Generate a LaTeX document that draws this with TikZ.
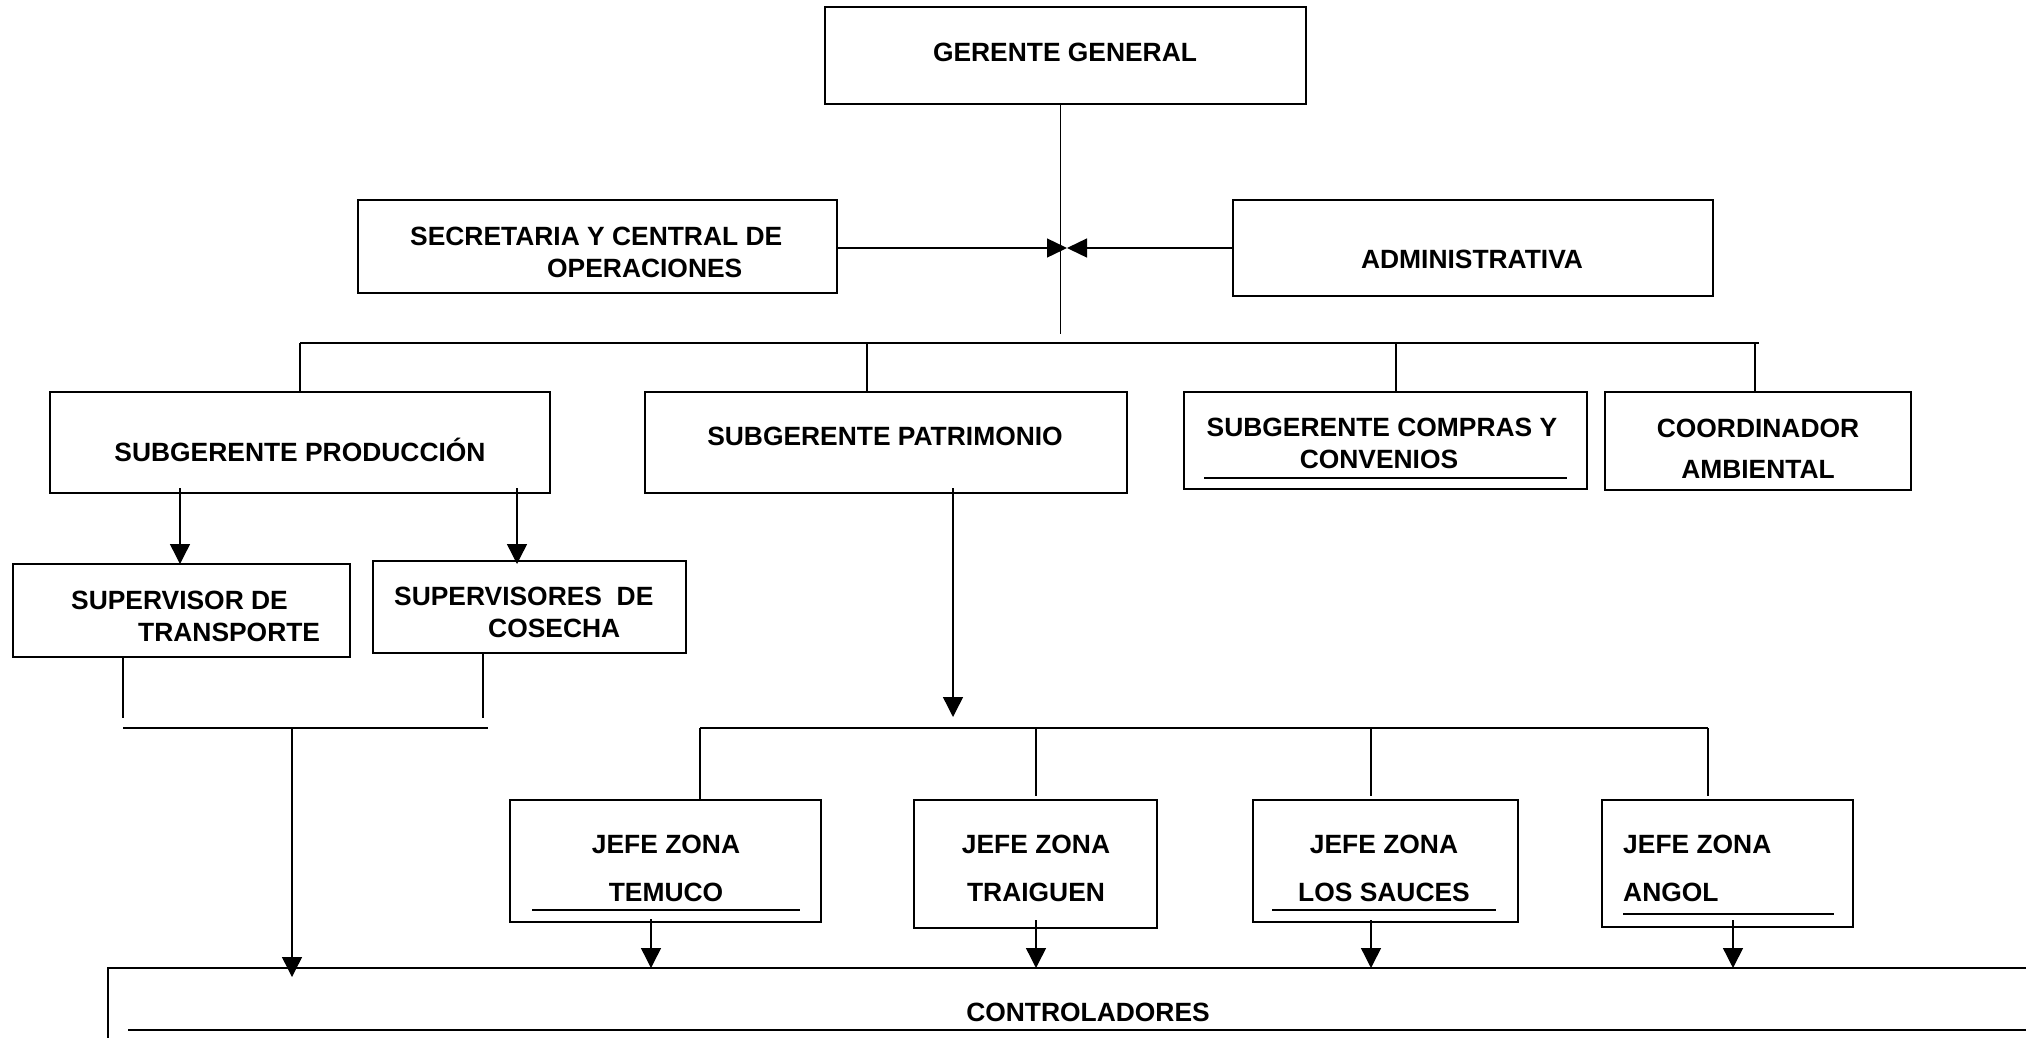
\documentclass[tikz,border=0pt]{standalone}
\usepackage{fontspec}
\setmainfont{Liberation Sans}
\usetikzlibrary{arrows.meta}
\begin{document}
\begin{tikzpicture}[x=1pt,y=-1pt,
  box/.style={draw, line width=1.8pt, inner sep=0pt, outer sep=0pt},
  lbl/.style={anchor=base, inner sep=0pt, font=\bfseries\fontsize{26.4}{32}\selectfont},
  lbll/.style={lbl, anchor=base west},
  conn/.style={line width=1.4pt},
  arr/.style={conn, -{Triangle[length=20pt,width=20pt]}},
  uline/.style={line width=1.8pt}]
\useasboundingbox (0,0) rectangle (2026,1037);
\clip (0,0) rectangle (2026,1037);
\fill[white] (0,0) rectangle (2026,1037);

% boxes
\node[box, minimum width=481pt, minimum height=97pt] (gg) at (1065.5,55.5) {};
\node[box, minimum width=479pt, minimum height=93pt] (sec) at (597.5,246.5) {};
\node[box, minimum width=480pt, minimum height=96pt] (adm) at (1473,248) {};
\node[box, minimum width=500pt, minimum height=101pt] (prod) at (300,442.5) {};
\node[box, minimum width=482pt, minimum height=101pt] (pat) at (886,442.5) {};
\node[box, minimum width=403pt, minimum height=97pt] (comp) at (1385.5,440.5) {};
\node[box, minimum width=306pt, minimum height=98pt] (coord) at (1758,441) {};
\node[box, minimum width=337pt, minimum height=93pt] (trans) at (181.5,610.5) {};
\node[box, minimum width=313pt, minimum height=92pt] (cos) at (529.5,607) {};
\node[box, minimum width=311pt, minimum height=122pt] (tem) at (665.5,861) {};
\node[box, minimum width=243pt, minimum height=128pt] (tra) at (1035.5,864) {};
\node[box, minimum width=265pt, minimum height=122pt] (los) at (1385.5,861) {};
\node[box, minimum width=251pt, minimum height=127pt] (ang) at (1727.5,863.5) {};
\node[box, minimum width=1992pt, minimum height=132pt] (ctrl) at (1104,1034) {};

% texts
\node[lbl] (tgg) at (1065,61) {GERENTE GENERAL};
\node[lbll] (tsec1) at (410,245) {SECRETARIA Y CENTRAL DE};
\node[lbll] (tsec2) at (547,277) {OPERACIONES};
\node[lbl] (tadm) at (1472,268) {ADMINISTRATIVA};
\node[lbl] (tprod) at (300,461) {SUBGERENTE PRODUCCIÓN};
\node[lbl] (tpat) at (885,445) {SUBGERENTE PATRIMONIO};
\node[lbl] (tcomp1) at (1382,436) {SUBGERENTE COMPRAS Y};
\node[lbl] (tcomp2) at (1379,468) {CONVENIOS};
\node[lbl] (tco1) at (1758,437) {COORDINADOR};
\node[lbl] (tco2) at (1758,478) {AMBIENTAL};
\node[lbll] (ttr1) at (71,609) {SUPERVISOR DE};
\node[lbll] (ttr2) at (138,641) {TRANSPORTE};
\node[lbll] (tcs1) at (394,605) {SUPERVISORES\ \ DE};
\node[lbll] (tcs2) at (488,637) {COSECHA};
\node[lbl] (ttem1) at (666,853) {JEFE ZONA};
\node[lbl] (ttem2) at (666,901) {TEMUCO};
\node[lbl] (ttra1) at (1036,853) {JEFE ZONA};
\node[lbl] (ttra2) at (1036,901) {TRAIGUEN};
\node[lbl] (tlos1) at (1384,853) {JEFE ZONA};
\node[lbl] (tlos2) at (1384,901) {LOS SAUCES};
\node[lbll] (tang1) at (1623,853) {JEFE ZONA};
\node[lbll] (tang2) at (1623,901) {ANGOL};
\node[lbl] (tctrl) at (1088,1021) {CONTROLADORES};

% underlines
\draw[uline] (532,910) -- (800,910);
\draw[uline] (1272,910) -- (1496,910);
\draw[uline] (1623,914) -- (1834,914);
\draw[line width=1.2pt] (1204,478) -- (1567,478);
\draw[line width=1.4pt] (128,1030) -- (2030,1030);

% top connectors
\coordinate (ctr) at (1060,334);
\draw[line width=1pt] (ctr |- gg.south) -- (ctr);
\coordinate (meet) at (1067,248);
\draw[arr, -{Triangle[length=20pt,width=19pt]}] (sec.east |- meet) -- (meet);
\draw[arr, -{Triangle[length=20pt,width=19pt]}] (adm.west |- meet) -- (meet);

% main bus
\coordinate (b1) at (300,343);
\coordinate (b2) at (867,343);
\coordinate (b3) at (1396,343);
\coordinate (b4) at (1755,343);
\coordinate (bR) at (1759,343);
\draw[line width=1.8pt] (b1) -- (bR);
\draw[conn] (b1) -- (b1 |- prod.north);
\draw[conn] (b2) -- (b2 |- pat.north);
\draw[conn] (b3) -- (b3 |- comp.north);
\draw[conn] (b4) -- (b4 |- coord.north);

% produccion
\coordinate (pa1) at (180,488);
\coordinate (pa2) at (517,488);
\draw[arr] (pa1) -- (pa1 |- trans.north);
\draw[arr] (pa2) -- (pa2 |- trans.north);
\coordinate (t1) at (123,718);
\coordinate (c1) at (483,718);
\draw[conn] (t1 |- trans.south) -- (t1);
\draw[conn] (c1 |- cos.south) -- (c1);
\coordinate (hL) at (123,728);
\coordinate (hR) at (488,728);
\coordinate (hD) at (292,728);
\coordinate (hT) at (292,977);
\draw[conn] (hL) -- (hR);
\draw[arr] (hD) -- (hT);

% patrimonio
\coordinate (pp) at (953,488);
\coordinate (ppT) at (953,717);
\draw[arr] (pp) -- (ppT);
\coordinate (q1) at (700,728);
\coordinate (q2) at (1036,728);
\coordinate (q3) at (1371,728);
\coordinate (q4) at (1708,728);
\draw[line width=1.8pt] (q1) -- (q4);
\draw[conn] (q1) -- (q1 |- tem.north);
\draw[conn] (q2) -- (1036,796);
\draw[conn] (q3) -- (1371,796);
\draw[conn] (q4) -- (1708,796);

% jefe zona arrows
\coordinate (ja1) at (651,919);
\coordinate (ja2) at (1036,920);
\coordinate (ja3) at (1371,920);
\coordinate (ja4) at (1733,920);
\draw[arr] (ja1) -- (ja1 |- ctrl.north);
\draw[arr] (ja2) -- (ja2 |- ctrl.north);
\draw[arr] (ja3) -- (ja3 |- ctrl.north);
\draw[arr] (ja4) -- (ja4 |- ctrl.north);
\end{tikzpicture}
\end{document}
